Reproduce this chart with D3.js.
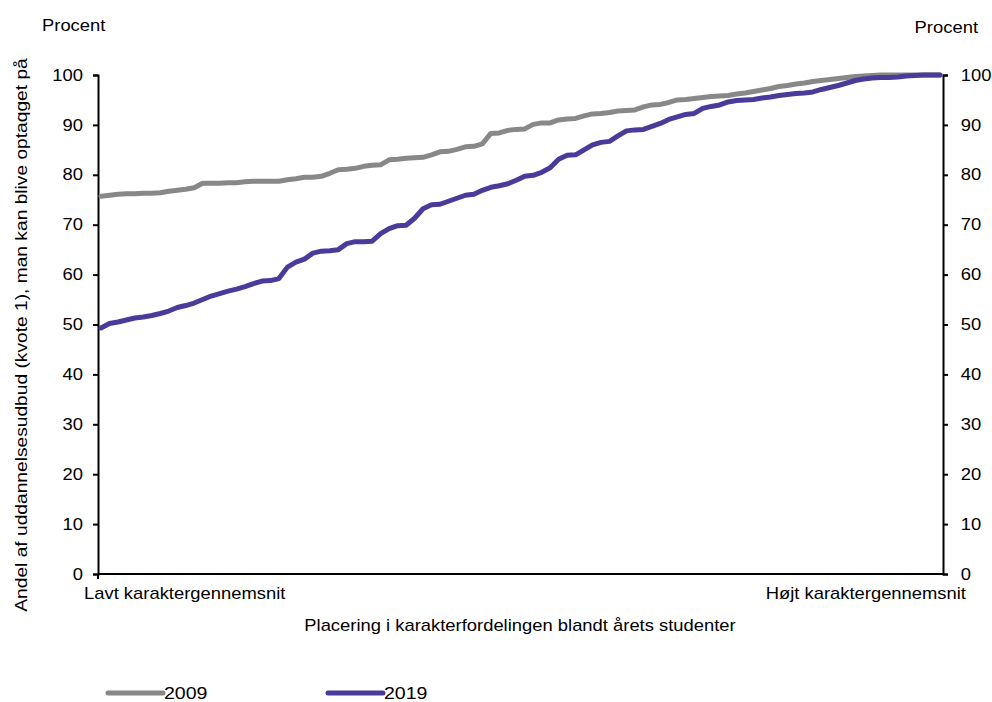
<!DOCTYPE html>
<html><head><meta charset="utf-8">
<script src="https://cdn.jsdelivr.net/npm/d3@7"></script>
<style>body{margin:0;background:#fff}svg{display:block;font-family:"Liberation Sans",Arial,sans-serif}</style>
</head><body><svg id="c" width="992" height="702"></svg>
<script>
const series2009 = [75.7,75.9,76.1,76.2,76.2,76.3,76.3,76.4,76.7,76.9,77.1,77.4,78.3,78.3,78.3,78.4,78.4,78.6,78.7,78.7,
78.7,78.7,79.0,79.2,79.5,79.5,79.7,80.3,81.0,81.1,81.3,81.7,81.9,82.0,83.0,83.1,83.3,83.4,83.5,84.0,
84.6,84.7,85.1,85.6,85.7,86.2,88.3,88.4,88.9,89.1,89.2,90.1,90.4,90.4,91.0,91.2,91.3,91.8,92.2,92.3,
92.5,92.8,92.9,93.0,93.6,94.0,94.1,94.5,95.0,95.1,95.3,95.5,95.7,95.8,95.9,96.2,96.4,96.7,97.0,97.3,
97.7,97.9,98.2,98.4,98.7,98.9,99.1,99.3,99.5,99.7,99.8,99.9,100,100,100,100,100,100,100,100];
const series2019 = [49.3,50.2,50.5,50.9,51.3,51.5,51.8,52.2,52.7,53.4,53.8,54.3,55.0,55.7,56.2,56.7,57.1,57.6,58.2,58.7,
58.8,59.2,61.5,62.5,63.1,64.3,64.7,64.8,65.0,66.2,66.6,66.6,66.7,68.2,69.2,69.8,69.9,71.3,73.2,74.0,
74.1,74.7,75.3,75.9,76.1,76.9,77.5,77.8,78.2,78.9,79.7,79.9,80.5,81.4,83.1,83.9,84.0,85.0,86.0,86.5,
86.7,87.8,88.8,89.0,89.1,89.7,90.3,91.1,91.6,92.1,92.3,93.3,93.7,94.0,94.6,94.9,95.0,95.1,95.4,95.6,
95.9,96.1,96.3,96.4,96.6,97.1,97.5,97.9,98.4,98.9,99.2,99.4,99.5,99.5,99.6,99.8,99.9,100,100,100];
const seriesNames = ["2009","2019"];
const seriesColors = ["#888888","#4a3b9b"];
const yTicks = [0,10,20,30,40,50,60,70,80,90,100];
const xLabels = ["Lavt karaktergennemsnit","Højt karaktergennemsnit"];
const xTitle = "Placering i karakterfordelingen blandt årets studenter";
const yTitle = "Andel af uddannelsesudbud (kvote 1), man kan blive optaqget på";
const unitLabel = "Procent";

const SX = 1.15; // horizontal stretch of the reference glyphs
const svg = d3.select("#c");
const L = 98, R = 943, T = 75, B = 574;
const x = d3.scaleLinear().domain([-0.35, series2009.length - 0.65]).range([L, R]);
const y = d3.scaleLinear().domain([0, 100]).range([B, T]);

const gl = svg.append("g").attr("transform", `translate(${L},0)`)
  .call(d3.axisLeft(y).tickValues(yTicks).tickSize(5).tickPadding(8));
const gr = svg.append("g").attr("transform", `translate(${R},0)`)
  .call(d3.axisRight(y).tickValues(yTicks).tickSize(5).tickPadding(10.5));
[gl, gr].forEach(g => {
  g.select(".domain").attr("stroke", "#000").attr("stroke-width", 2);
  g.selectAll(".tick line").attr("stroke", "#000").attr("stroke-width", 2);
  g.selectAll("text").attr("font-size", 16).attr("fill", "#000")
    .attr("font-family", "Liberation Sans, Arial, sans-serif").attr("transform", `scale(${SX},1)`);
});
svg.append("line").attr("x1", L).attr("x2", R).attr("y1", B).attr("y2", B).attr("stroke", "#000").attr("stroke-width", 2);
svg.append("line").attr("x1", L).attr("x2", L).attr("y1", B).attr("y2", B + 5).attr("stroke", "#000").attr("stroke-width", 2);

function label(tx, ty, str, anchor, rot, size, sx) {
  svg.append("text")
    .attr("transform", `translate(${tx},${ty})` + (rot ? ` rotate(${rot})` : "") + ` scale(${sx || SX},1)`)
    .attr("font-size", size || 16).attr("text-anchor", anchor || "start").attr("fill", "#000").text(str);
}
label(84, 599, xLabels[0]);
label(966, 599, xLabels[1], "end");
label(520, 631, xTitle, "middle");
label(27, 335, yTitle, "middle", -90, 16, 1.2);
label(42, 31, unitLabel);
label(978, 33, unitLabel, "end");

const line = d3.line().x((d, i) => x(i)).y(d => y(d));
[series2009, series2019].forEach((s, k) => {
  svg.append("path").datum(s).attr("d", line).attr("fill", "none")
    .attr("stroke", seriesColors[k]).attr("stroke-width", 5).attr("stroke-linejoin", "round").attr("stroke-linecap", "round");
});

const lx = [108, 328];
seriesNames.forEach((n, k) => {
  svg.append("line").attr("x1", lx[k]).attr("x2", lx[k] + 55).attr("y1", 693).attr("y2", 693)
    .attr("stroke", seriesColors[k]).attr("stroke-width", 5).attr("stroke-linecap", "round");
  label(lx[k] + 56, 699, n, "start", 0, 17);
});
</script></body></html>
